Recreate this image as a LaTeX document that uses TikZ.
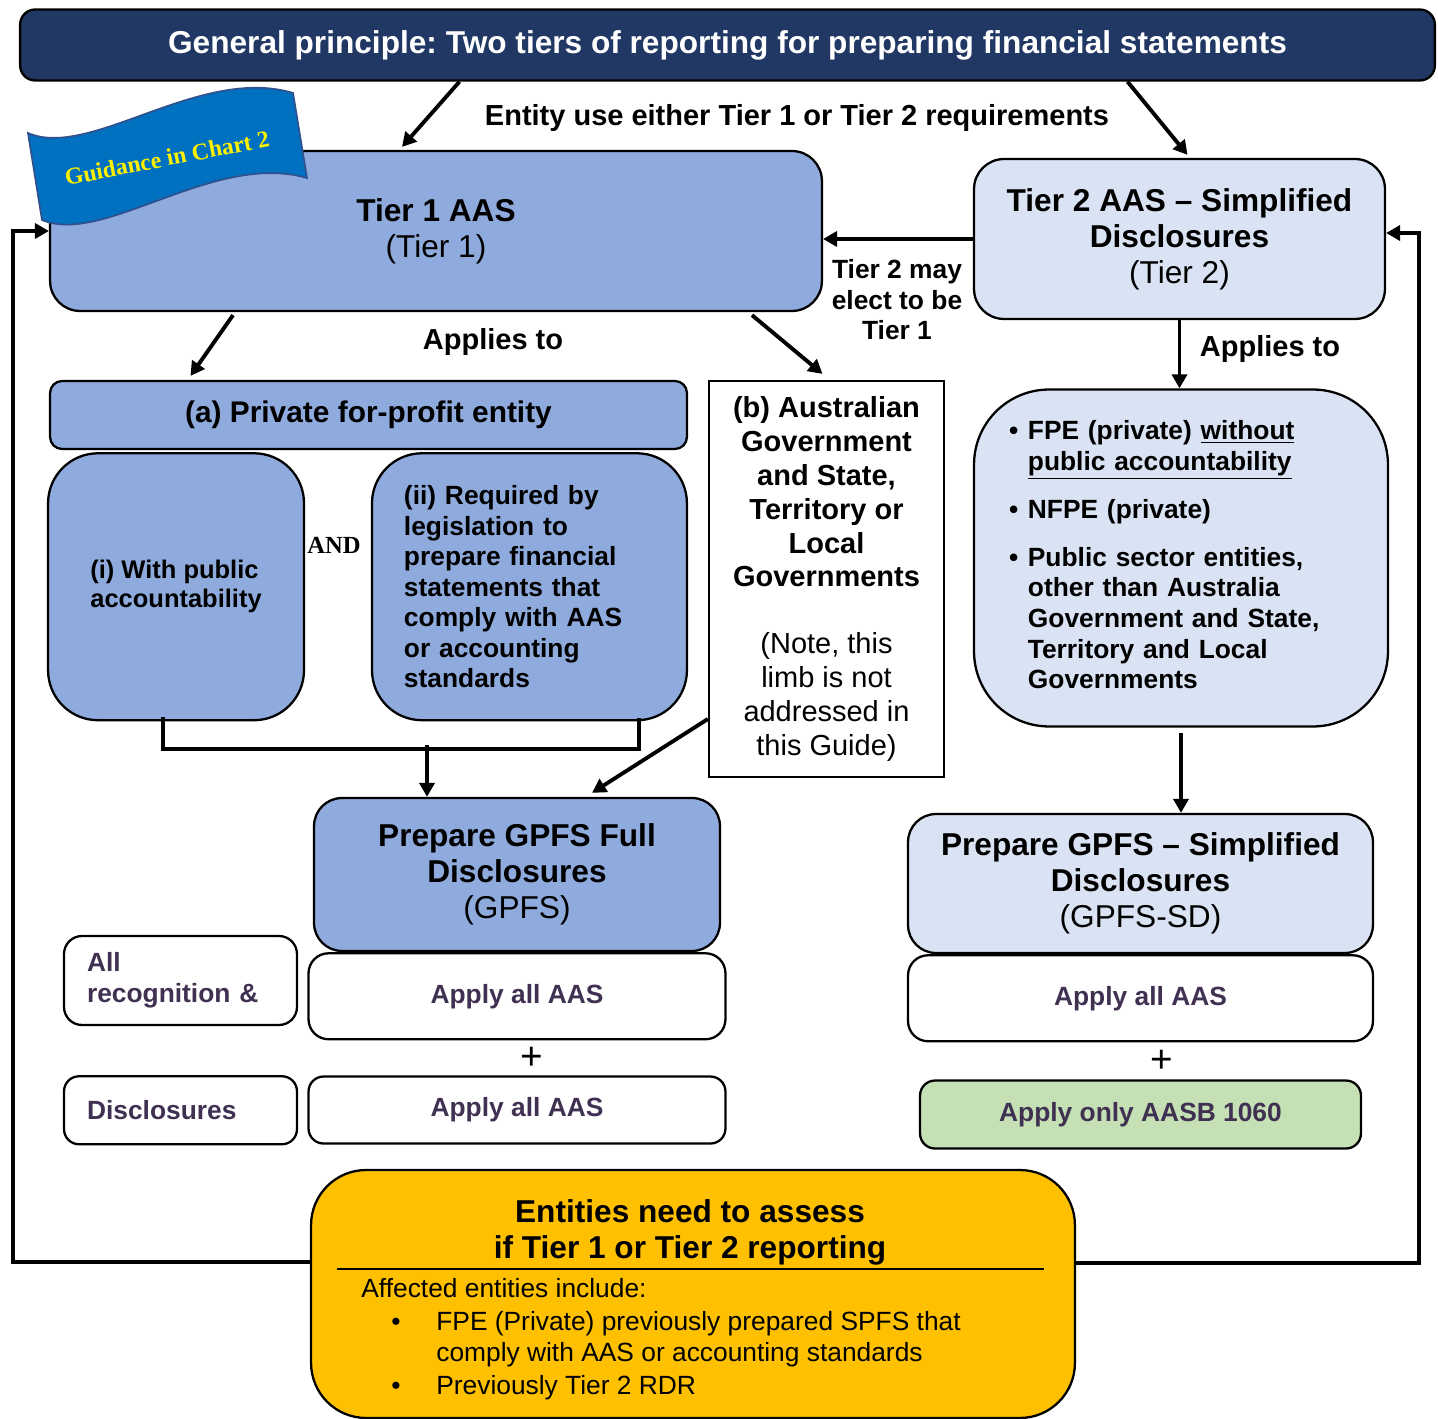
\documentclass[tikz,border=0pt]{standalone}
\usepackage{fontspec}
\setmainfont{Liberation Sans}
\newfontfamily\serifflag{Liberation Serif}
\usetikzlibrary{positioning,calc,arrows.meta}
\frenchspacing
\definecolor{navy}{HTML}{213864}
\definecolor{tierblue}{HTML}{8FAADC}
\definecolor{paleblue}{HTML}{DAE3F3}
\definecolor{flagblue}{HTML}{0070C0}
\definecolor{flagedge}{HTML}{2F528F}
\definecolor{gold}{HTML}{FFC000}
\definecolor{mint}{HTML}{C5E0B4}
\definecolor{plum}{HTML}{403152}
\newcommand{\fbig}{\fontsize{18}{20.5}\selectfont}
\newcommand{\fmed}{\fontsize{16.5}{19.3}\selectfont}
\newcommand{\fsml}{\fontsize{15}{17.4}\selectfont}
\tikzset{
	box/.style={draw, line width=1.3pt, inner sep=0pt, align=center},
	arr/.style={line width=2.2pt, -{Triangle[length=0.28cm,width=0.3cm]}},
	link/.style={line width=2.4pt},
}

\begin{document}
\begin{tikzpicture}[x=0.02cm, y=-0.02cm]
	\useasboundingbox (0,0) rectangle (1438,1419);
	
	\node[box, fill=navy, text=white, rounded corners=0.3cm, minimum width=28.3cm, minimum height=1.42cm, font=\fbig\bfseries] (top) at (727.5,45) {General principle: Two tiers of reporting for preparing financial statements};
	\node[font=\fmed\bfseries] (either) at (797,118) {Entity use either Tier 1 or Tier 2 requirements};
	
	\node[box, fill=tierblue, rounded corners=0.6cm, minimum width=15.44cm, minimum height=3.2cm, font=\fbig] (t1) at (436,231) {\textbf{Tier 1 AAS}\\(Tier 1)};
	\node[box, fill=paleblue, rounded corners=0.6cm, minimum width=8.22cm, minimum height=3.2cm, font=\fbig] (t2) at (1179.5,239) {\textbf{Tier 2 AAS – Simplified}\\\textbf{Disclosures}\\(Tier 2)};
	\node[font=\fsml\bfseries, align=center] (elect) at (897,300) {Tier 2 may\\elect to be\\Tier 1};
	\node[font=\fmed\bfseries] (app1) at (493,342) {Applies to};
	\node[font=\fmed\bfseries] (app2) at (1270,349) {Applies to};
	
	\draw[fill=flagblue, draw=flagedge, line width=1pt] (28,133) .. controls (90,160) and (200,65) .. (293,93) -- (307,178) .. controls (214,151) and (104,246) .. (42,220) -- cycle;
	\node[font=\serifflag\bfseries\fontsize{13.5}{14}\selectfont, text=yellow, rotate=11] (guide) at (167,158) {Guidance in Chart 2};
	
	\node[box, fill=tierblue, rounded corners=0.24cm, minimum width=12.74cm, minimum height=1.36cm, font=\fontsize{17}{20}\selectfont\bfseries] (pa) at (368.5,415) {(a) Private for-profit entity};
	\node[box, fill=tierblue, rounded corners=1cm, minimum width=5.12cm, minimum height=5.34cm, align=left, font=\fontsize{14.5}{16.6}\selectfont\bfseries] (pi) [below right=0.04cm and -0.04cm of pa.south west] {(i) With public\\accountability};
	\node[box, fill=tierblue, rounded corners=1cm, text width=5.02cm, inner xsep=0.64cm, minimum height=5.34cm, align=left, font=\fsml\bfseries] (pii) [below left=0.04cm and 0cm of pa.south east] {(ii) Required by\\legislation to\\prepare financial\\statements that\\comply with AAS\\or accounting\\standards};
	\node[font=\serifflag\bfseries\fontsize{14}{14}\selectfont] (and) at (334,545) {AND};
	
	\node[box, fill=white, minimum width=4.7cm, minimum height=7.92cm, font=\fmed] (pb) at (826.5,579) {\textbf{(b) Australian}\\\textbf{Government}\\\textbf{and State,}\\\textbf{Territory or}\\\textbf{Local}\\\textbf{Governments}\\[18.8pt](Note, this\\limb is not\\addressed in\\this Guide)};
	
	\node[box, fill=paleblue, rounded corners=1.5cm, minimum width=8.28cm, minimum height=6.74cm, text width=6.88cm, inner xsep=0.7cm, align=left, font=\fsml\bfseries] (t2l) at (1181,558) {\begin{tabular}{@{}l@{\hspace{5.5pt}}l@{}}
			\textbullet & FPE (private) \underline{without}\\
			& \underline{public accountability}\\[10pt]
			\textbullet & NFPE (private)\\[10pt]
			\textbullet & Public sector entities,\\
			& other than Australia\\
			& Government and State,\\
			& Territory and Local\\
			& Governments
		\end{tabular}};
	
	\node[box, fill=tierblue, rounded corners=0.56cm, minimum width=8.12cm, minimum height=3.06cm, font=\fbig] (g1) at (517,874.5) {\textbf{Prepare GPFS Full}\\\textbf{Disclosures}\\(GPFS)};
	\node[box, fill=white, rounded corners=0.4cm, minimum width=8.34cm, minimum height=1.72cm, text=plum, font=\fsml\bfseries] (ap1) [below=0pt of g1] {Apply all AAS};
	\node[box, fill=white, rounded corners=0.3cm, minimum width=8.34cm, minimum height=1.34cm, text=plum, font=\fsml\bfseries] (ap2) [below=0.7cm of ap1] {Apply all AAS};
	\node[font=\fontsize{22}{22}\selectfont] (plus1) at ($(ap1.south)!0.5!(ap2.north)+(14.5,0)$) {+};
	
	\node[box, fill=white, rounded corners=0.36cm, minimum width=4.66cm, minimum height=1.78cm, text width=3.74cm, inner xsep=0.46cm, align=left, text=plum, font=\fsml\bfseries] (rec) at (180.5,980.5) {All\\recognition \&};
	\node[box, fill=white, rounded corners=0.3cm, minimum width=4.66cm, minimum height=1.36cm, text width=3.74cm, inner xsep=0.46cm, align=left, text=plum, font=\fsml\bfseries] (dis) [below=0.98cm of rec] {Disclosures};
	
	\node[box, fill=paleblue, rounded corners=0.56cm, minimum width=9.3cm, minimum height=2.78cm, font=\fbig] (g2) at (1140.5,883.5) {\textbf{Prepare GPFS – Simplified}\\\textbf{Disclosures}\\(GPFS-SD)};
	\node[box, fill=white, rounded corners=0.4cm, minimum width=9.3cm, minimum height=1.72cm, text=plum, font=\fsml\bfseries] (ap3) [below=0pt of g2] {Apply all AAS};
	\node[box, fill=mint, rounded corners=0.3cm, minimum width=8.82cm, minimum height=1.36cm, text=plum, font=\fsml\bfseries] (aasb) [below=0.74cm of ap3] {Apply only AASB 1060};
	\node[font=\fontsize{22}{22}\selectfont] (plus2) at ($(ap3.south)!0.5!(aasb.north)+(21.5,0)$) {+};
	
	\node[box, fill=gold, rounded corners=1.1cm, minimum width=15.28cm, minimum height=4.96cm] (assess) at (693,1294) {};
	\node[font=\fbig\bfseries, align=center] (asshead) at (690,1232) {Entities need to assess\\if Tier 1 or Tier 2 reporting};
	\draw[line width=1.1pt] ($(assess.north west)+(27,100)$) -- ($(assess.north east)+(-32,100)$);
	\node[anchor=north west, inner sep=0pt, font=\fsml] (affected) at (361,1276) {\begin{tabular}{@{}p{1.5cm}@{}l@{}}
			\multicolumn{2}{@{}l@{}}{Affected entities include:}\\[1.5pt]
			\hspace*{0.6cm}\textbullet & FPE (Private) previously prepared SPFS that\\
			& comply with AAS or accounting standards\\[1.5pt]
			\hspace*{0.6cm}\textbullet & Previously Tier 2 RDR
		\end{tabular}};
	
	\draw[arr] ($(top.south)+(-268,0)$) -- ($(t1.north)+(-34,-3)$);
	\draw[arr] ($(top.south)+(400,0)$) -- ($(t2.north)+(8,-3)$);
	\draw[arr] (t2.west) -- (t2.west -| t1.east);
	\draw[arr] ($(t1.south)+(-203,3)$) -- ($(pa.north)+(-178,-4)$);
	\draw[arr] ($(t1.south)+(316,3)$) -- ($(pb.north)+(-4,-6)$);
	\draw[arr] (t2.south) -- (t2.south |- t2l.north);
	\draw[arr] ([yshift=-0.1cm]t2l.south) -- (t2l.south |- g2.north);
	\draw[link] ($(pi.south)+(-13,-4)$) |- ($(pii.south)+(109.5,28)$) -- ++(0,-31);
	\coordinate (join) at ($(g1.north)+(-90,-52)$);
	\draw[arr] (join) -- (join |- g1.north);
	\draw[arr] ($(pb.west)+(0,140)$) -- ($(g1.north)+(75,-4)$);
	\draw[arr] ($(assess.west)+(0,-32)$) -| ($(t1.west)+(-36,0)$) -- (t1.west);
	\draw[arr] ($(assess.east)+(0,-31)$) -| ($(t2.east)+(33,-6)$) -- ($(t2.east)+(0,-6)$);
\end{tikzpicture}
\end{document}
